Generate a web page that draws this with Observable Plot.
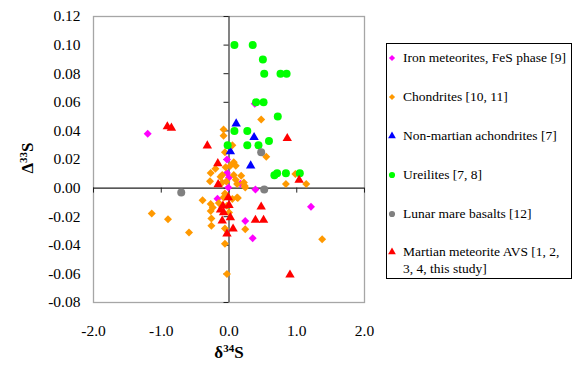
<!DOCTYPE html>
<html>
<head>
<meta charset="utf-8">
<script src="https://cdn.jsdelivr.net/npm/d3@7"></script>
<script src="https://cdn.jsdelivr.net/npm/@observablehq/plot@0.6"></script>
<style>
  body { margin: 0; background: #fff; }
  #wrap { position: relative; width: 573px; height: 369px; font-family: "Liberation Serif", "Times New Roman", serif; }
  #wrap svg { position: absolute; left: 0; top: 0; }
  .ttl { position: absolute; font-weight: bold; font-size: 17px; white-space: nowrap; color: #000; }
  .ttl sup { font-size: 11px; vertical-align: 0; position: relative; top: -6px; }
  #legend { position: absolute; left: 386px; top: 43px; width: 184px; height: 234px; border: 1px solid #000; background: #fff; }
  .item { position: absolute; left: 0; font-size: 13.5px; line-height: 16.5px; color: #000; }
  .item svg { position: absolute; left: 4px; }
  .item span { position: absolute; left: 16px; white-space: nowrap; }
</style>
</head>
<body>
<div id="wrap"></div>
<script>
// ---- data ----
const xDomain = [-2, 2];
const yDomain = [-0.08, 0.12];
const xTicks = [-2, -1, 0, 1, 2];
const yTicks = [-0.08, -0.06, -0.04, -0.02, 0, 0.02, 0.04, 0.06, 0.08, 0.10, 0.12];

const seriesNames = [
  "Iron meteorites, FeS phase [9]",
  "Chondrites [10, 11]",
  "Non-martian achondrites [7]",
  "Ureilites [7, 8]",
  "Lunar mare basalts [12]",
  "Martian meteorite AVS [1, 2, 3, 4, this study]"
];
const seriesColors = ["#ff00ff", "#ff9900", "#0000ff", "#00ff00", "#808080", "#ff0000"];
const seriesSymbols = ["diamond2", "diamond2", "triangle", "circle", "circle", "triangle"];

const iron = [
  [-1.2, 0.038], [0.38, 0.059], [-0.03, 0.020], [-0.03, 0.0105], [0.0, 0.0074], [-0.01, 0.0004],
  [0.17, 0.003], [-0.17, -0.0075], [0.39, -0.001], [1.21, -0.013], [0.24, -0.023], [0.35, -0.035]
];
const chondrites = [
  [-0.08, 0.041], [-0.08, 0.0366], [0.05, 0.030], [-0.06, 0.025], [0.07, 0.018], [0.02, 0.0156],
  [0.10, 0.0156], [-0.05, 0.0145], [-0.20, 0.0135], [0.475, 0.048], [0.55, 0.022], [-0.27, 0.0105],
  [-0.10, 0.0091], [0.07, 0.0091], [0.10, 0.0058], [-0.28, 0.0048], [-0.10, 0.0039], [0.12, 0.0028],
  [0.22, 0.0039], [0.24, 0.0004], [-0.39, -0.0085], [-0.27, -0.0112], [-0.08, -0.0066], [0.05, -0.0077],
  [0.12, -0.0066], [-0.15, -0.0105], [-0.03, -0.0124], [-0.24, -0.0136], [-0.27, -0.016], [-0.26, -0.0213],
  [-0.26, -0.0264], [0.0, -0.017], [-0.06, -0.0283], [-0.06, -0.039], [-0.03, -0.060], [0.24, -0.0287],
  [1.375, -0.0357], [-1.14, -0.0178], [-0.90, -0.0217], [-0.59, -0.031], [0.98, 0.0098], [0.84, 0.0028],
  [1.14, 0.0028], [0.23, 0.0016], [0.18, 0.0086], [0.13, -0.007], [-0.04, 0.0046], [-0.125, 0.0079],
  [-0.06, -0.0038]
];
const achondrites = [[0.106, 0.045], [0.37, 0.0355], [0.02, 0.0255], [0.32, 0.0156]];
const ureilites = [
  [0.08, 0.100], [0.35, 0.100], [0.50, 0.090], [0.52, 0.080], [0.76, 0.080], [0.85, 0.080],
  [0.40, 0.060], [0.51, 0.060], [0.72, 0.050], [0.08, 0.040], [0.27, 0.040], [0.59, 0.033],
  [-0.02, 0.030], [0.27, 0.030], [0.435, 0.030], [0.67, 0.009], [0.71, 0.0103], [0.84, 0.0103],
  [1.045, 0.0103]
];
const lunar = [[-0.705, -0.003], [0.475, 0.025], [0.52, -0.001]];
const martian = [
  [-0.91, 0.043], [-0.85, 0.042], [-0.32, 0.0296], [-0.165, 0.0172], [0.86, 0.0348], [1.035, 0.0056],
  [-0.16, 0.0025], [-0.01, -0.0066], [-0.09, -0.0124], [0.0, -0.012], [-0.125, -0.0152], [-0.08, -0.017],
  [-0.10, -0.0229], [0.02, -0.0206], [0.06, -0.0285], [-0.03, -0.032], [0.475, -0.0131], [0.39, -0.0224],
  [0.51, -0.0224], [0.90, -0.0607]
];
const seriesData = [iron, chondrites, achondrites, ureilites, lunar, martian];

// ---- layout ----
const W = 573, H = 369;
const mL = 93, mR = 209, mT = 16, mB = 67;
const tickPx = 5;
const xTickLen = tickPx * (xDomain[1] - xDomain[0]) / (W - mL - mR);
const yTickLen = tickPx * (yDomain[1] - yDomain[0]) / (H - mT - mB);

const dotMarks = seriesData.map((data, i) => Plot.dot(data, {
  x: d => d[0], y: d => d[1],
  symbol: () => seriesSymbols[i],
  fill: seriesColors[i], stroke: "none",
  r: seriesSymbols[i] === "triangle" ? 3.5 : (seriesSymbols[i] === "circle" ? 4 : 3.6)
}));

const chart = Plot.plot({
  width: W, height: H,
  marginLeft: mL, marginRight: mR, marginTop: mT, marginBottom: mB,
  x: { domain: xDomain },
  y: { domain: yDomain },
  symbol: { type: "identity" },
  style: { fontFamily: "'Liberation Serif', 'Times New Roman', serif", fontSize: "15.5px", color: "#000", background: "transparent" },
  marks: [
    Plot.frame({ stroke: "#a6a6a6", strokeWidth: 1.3 }),
    Plot.axisX(xTicks, { tickSize: 0, tickPadding: 22, tickFormat: d => d.toFixed(1), label: null, fontSize: 15.5 }),
    Plot.axisY(yTicks, { tickSize: 0, tickPadding: 13, tickFormat: d => d.toFixed(2), label: null, fontSize: 15.5 }),
    Plot.ruleX([0], { stroke: "#404040", strokeWidth: 1.3 }),
    Plot.ruleY([0], { stroke: "#202020", strokeWidth: 1.3 }),
    Plot.ruleY(yTicks, { y: d => d, x1: 0, x2: -yTickLen === 0 ? 0 : -xTickLen, stroke: "#202020" }),
    Plot.ruleX(xTicks, { x: d => d, y1: 0, y2: -yTickLen, stroke: "#202020" }),
    ...dotMarks
  ]
});

const wrap = document.getElementById("wrap");
wrap.appendChild(chart);

// axis titles
const yt = document.createElement("div");
yt.className = "ttl";
yt.innerHTML = "&Delta;<sup>33</sup>S";
yt.style.left = "28px"; yt.style.top = "158px";
yt.style.transform = "translate(-50%, -50%) rotate(-90deg)";
wrap.appendChild(yt);

const xt = document.createElement("div");
xt.className = "ttl";
xt.innerHTML = "&delta;<sup>34</sup>S";
xt.style.left = "229px"; xt.style.top = "353px";
xt.style.transform = "translate(-50%, -50%)";
wrap.appendChild(xt);

// legend
const legend = document.createElement("div");
legend.id = "legend";
wrap.appendChild(legend);
const rowTops = [6, 45, 84, 123, 162, 200];
seriesNames.forEach((name, i) => {
  const it = document.createElement("div");
  it.className = "item";
  it.style.top = rowTops[i] + "px";
  const sym = { diamond2: d3.symbolDiamond2, triangle: d3.symbolTriangle, circle: d3.symbolCircle }[seriesSymbols[i]];
  const sz = seriesSymbols[i] === "circle" ? 30 : (seriesSymbols[i] === "triangle" ? 26 : 24);
  const s = d3.create("svg").attr("width", 10).attr("height", 10).style("top", "3px");
  s.append("path").attr("transform", "translate(5,5)").attr("d", d3.symbol(sym, sz)()).attr("fill", seriesColors[i]);
  it.appendChild(s.node());
  const sp = document.createElement("span");
  if (i === 5) {
    sp.innerHTML = "Martian meteorite AVS [1, 2,<br>3, 4, this study]";
  } else {
    sp.textContent = name;
  }
  it.appendChild(sp);
  legend.appendChild(it);
});
</script>
</body>
</html>
